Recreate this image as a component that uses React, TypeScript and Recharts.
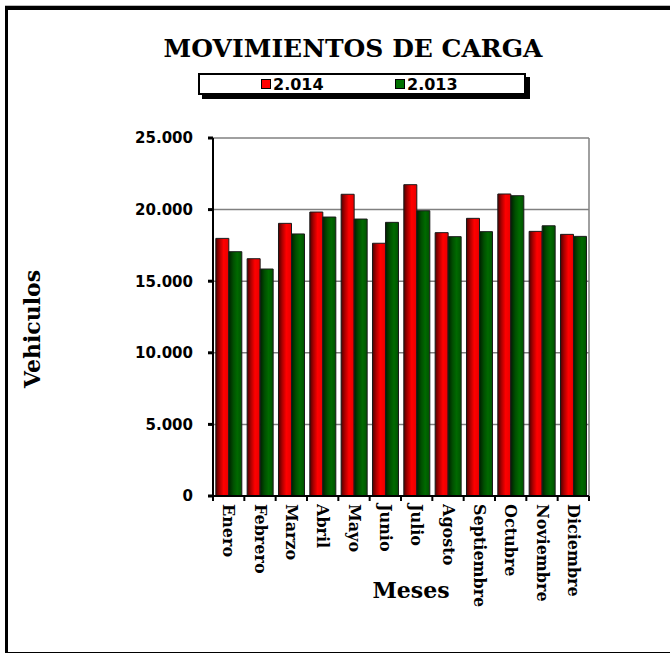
import {
  Bar,
  BarChart,
  CartesianGrid,
  Legend,
  XAxis,
  YAxis,
} from "recharts";

const MESES = [
  "Enero",
  "Febrero",
  "Marzo",
  "Abril",
  "Mayo",
  "Junio",
  "Julio",
  "Agosto",
  "Septiembre",
  "Octubre",
  "Noviembre",
  "Diciembre",
];

const CARGA_2014 = [17990, 16570, 19040, 19830, 21070, 17650, 21740, 18390, 19390, 21090, 18480, 18270];
const CARGA_2013 = [17060, 15850, 18300, 19480, 19340, 19110, 19920, 18110, 18460, 20970, 18870, 18130];

const TICKS_Y = [0, 5000, 10000, 15000, 20000, 25000];

const SERIES = [
  { clave: "2.014", color: "#ff0000", relleno: "url(#rojo)" },
  { clave: "2.013", color: "#007000", relleno: "url(#verde)" },
];

const SERIF = "'DejaVu Serif', serif";
const SANS = "'DejaVu Sans', sans-serif";

const datos = MESES.map((mes, i) => ({
  mes,
  "2.014": CARGA_2014[i],
  "2.013": CARGA_2013[i],
}));

function miles(valor: number) {
  return String(valor).replace(/\B(?=(\d{3})+(?!\d))/g, ".");
}

function TickMes(props: any) {
  const { x, y, payload, index } = props;
  const mitad = payload?.offset ?? 15.67;
  const base = y - 10;
  return (
    <g>
      <line x1={x - mitad} x2={x - mitad} y1={base} y2={base + 5} stroke="#000" strokeWidth={2} />
      {index === MESES.length - 1 && (
        <line x1={x + mitad} x2={x + mitad} y1={base} y2={base + 5} stroke="#000" strokeWidth={2} />
      )}
      <text
        transform={`translate(${x},${y - 2}) rotate(90)`}
        textAnchor="start"
        dominantBaseline="central"
        fontFamily={SERIF}
        fontWeight="bold"
        fontSize={16}
        fill="#000"
      >
        {payload.value}
      </text>
    </g>
  );
}

function Leyenda() {
  return (
    <div
      style={{
        boxSizing: "border-box",
        width: 328,
        height: 22,
        border: "2px solid #000",
        boxShadow: "4px 4px 0 #000",
        background: "#fff",
        position: "relative",
        fontFamily: SANS,
        fontWeight: "bold",
        fontSize: 16,
        color: "#000",
      }}
    >
      {SERIES.map((s, i) => (
        <div
          key={s.clave}
          style={{
            position: "absolute",
            left: i === 0 ? 61 : 195,
            top: 0,
            height: 18,
            display: "flex",
            alignItems: "center",
            gap: 2,
          }}
        >
          <span
            style={{
              display: "inline-block",
              width: 8,
              height: 8,
              background: s.color,
              border: "1px solid #000",
            }}
          />
          <span>{s.clave}</span>
        </div>
      ))}
    </div>
  );
}

export default function App() {
  return (
    <div
      style={{
        position: "absolute",
        left: 0,
        top: 0,
        width: 670,
        height: 655,
        overflow: "hidden",
        background: "#fff",
      }}
    >
      <div
        style={{
          position: "absolute",
          left: 5,
          top: 6,
          width: 720,
          height: 647,
          boxSizing: "border-box",
          borderTop: "4px solid #000",
          borderLeft: "3px solid #000",
          borderBottom: "1px solid #000",
          boxShadow: "0 -1px 0 #bbb",
        }}
      />
      <div
        style={{
          position: "absolute",
          left: 0,
          top: 33,
          width: 706,
          textAlign: "center",
          fontFamily: SERIF,
          fontWeight: "bold",
          fontSize: 25,
          lineHeight: "32px",
          color: "#000",
        }}
      >
        MOVIMIENTOS DE CARGA
      </div>
      <BarChart
        width={670}
        height={655}
        data={datos}
        margin={{ top: 138, right: 81, bottom: 0, left: 0 }}
        barCategoryGap="9%"
        barGap={0}
        style={{ position: "absolute", left: 0, top: 0 }}
      >
        <defs>
          <linearGradient id="rojo" x1="0" y1="0" x2="1" y2="0">
            <stop offset="0%" stopColor="#500000" />
            <stop offset="30%" stopColor="#b00000" />
            <stop offset="60%" stopColor="#ff0000" />
            <stop offset="100%" stopColor="#e80000" />
          </linearGradient>
          <linearGradient id="verde" x1="0" y1="0" x2="1" y2="0">
            <stop offset="0%" stopColor="#002000" />
            <stop offset="35%" stopColor="#005000" />
            <stop offset="65%" stopColor="#006a00" />
            <stop offset="100%" stopColor="#005200" />
          </linearGradient>
        </defs>
        <CartesianGrid
          stroke="#808080"
          strokeWidth={1.5}
          verticalCoordinatesGenerator={({ offset }: any) => [offset.left + offset.width]}
        />
        <XAxis
          dataKey="mes"
          height={159}
          interval={0}
          tickSize={5}
          tickMargin={5}
          tickLine={false}
          axisLine={{ stroke: "#000", strokeWidth: 2 }}
          tick={<TickMes />}
          label={{
            value: "Meses",
            position: "insideTop",
            offset: 86,
            dx: 10,
            style: { fontFamily: SERIF, fontWeight: "bold", fontSize: 22, fill: "#000" },
          }}
        />
        <YAxis
          width={213}
          domain={[0, 25000]}
          ticks={TICKS_Y}
          interval={0}
          tickSize={5}
          tickMargin={15}
          tickFormatter={miles}
          tickLine={{ stroke: "#000", strokeWidth: 3 }}
          axisLine={{ stroke: "#000", strokeWidth: 2 }}
          tick={{ fontFamily: SANS, fontWeight: "bold", fontSize: 15, fill: "#000" }}
          label={{
            value: "Vehiculos",
            position: "insideLeft",
            content: ({ viewBox }: any) => {
              const cx = viewBox.x + 32;
              const cy = viewBox.y + viewBox.height / 2 + 12;
              return (
                <text
                  x={cx}
                  y={cy}
                  transform={`rotate(-90, ${cx}, ${cy})`}
                  textAnchor="middle"
                  dominantBaseline="central"
                  fontFamily={SERIF}
                  fontWeight="bold"
                  fontSize={22}
                  fill="#000"
                >
                  Vehiculos
                </text>
              );
            },
          }}
        />
        <Legend
          layout="horizontal"
          verticalAlign="middle"
          align="center"
          wrapperStyle={{ left: 198, top: 73, width: 332, height: 26 }}
          content={() => <Leyenda />}
        />
        {SERIES.map((s) => (
          <Bar
            key={s.clave}
            dataKey={s.clave}
            fill={s.relleno}
            stroke="#1a1a1a"
            strokeWidth={1}
            isAnimationActive={false}
          />
        ))}
      </BarChart>
    </div>
  );
}
